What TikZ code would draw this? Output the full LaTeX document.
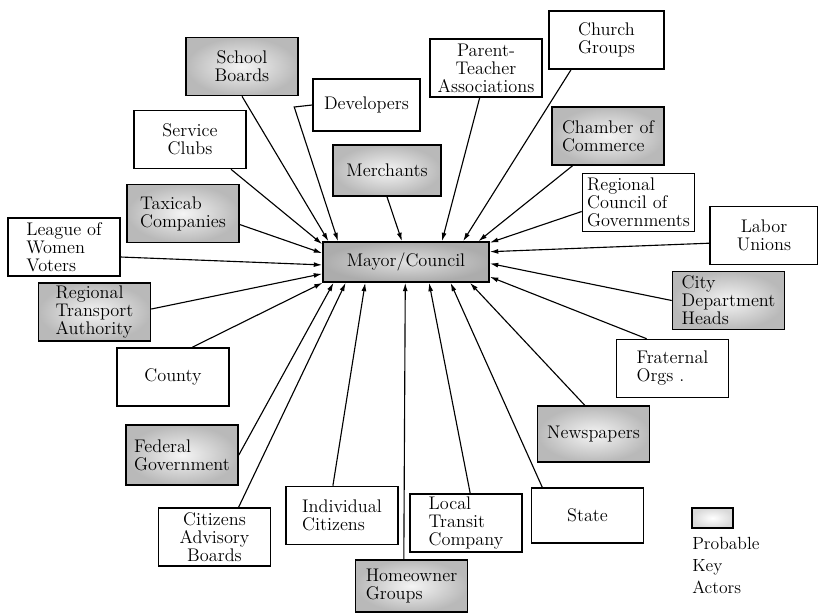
\documentclass[tikz,border=0pt]{standalone}
\usetikzlibrary{arrows.meta}

\begin{document}
\begin{tikzpicture}[
    x=0.025cm, y=-0.025cm,
    actor/.style={
        rectangle, draw, line width=1.1pt, fill=white,
        inner sep=2pt, align=center,
        minimum width=2.8cm, minimum height=1.45cm,
        font=\fontsize{13}{12.8}\selectfont
    },
    lactor/.style={actor, align=left},
    keyactor/.style={actor, inner color=gray!8, outer color=gray!55},
    lkeyactor/.style={keyactor, align=left},
    arr/.style={-{Latex[length=6pt, width=3.5pt]}, line width=0.8pt},
]
\useasboundingbox (0,0) rectangle (818,614);

% centre
\node[keyactor, inner color=gray!25, outer color=gray!65,
      minimum width=4.15cm, minimum height=1cm] (mayor) at (406,262) {Mayor/Council};

% left and top
\node[keyactor] (sb) at (242,66.5) {School\\Boards};
\node[actor, minimum width=2.675cm, minimum height=1.3cm] (dev) at (366.5,105) {Developers};
\node[actor] (sc) at (190,139.5) {Service\\Clubs};
\node[keyactor, minimum width=2.7cm, minimum height=1.275cm] (mer) at (387,170.5) {Merchants};
\node[lkeyactor] (tax) at (183,213.5) {Taxicab\\Companies};
\node[lactor] (lwv) at (64,247) {League of\\Women\\Voters};
\node[lkeyactor] (rta) at (94.5,312) {Regional\\Transport\\Authority};
\node[actor] (county) at (173,377) {County};
\node[lkeyactor, minimum height=1.5cm] (fed) at (182,455) {Federal\\Government};
\node[actor] (cab) at (214.5,537) {Citizens\\Advisory\\Boards};
\node[lactor] (ic) at (342,515.5) {Individual\\Citizens};
\node[lkeyactor, minimum height=1.3cm] (hg) at (411.5,586) {Homeowner\\Groups};

% right and bottom
\node[lactor] (ltc) at (466,523) {Local\\Transit\\Company};
\node[actor, minimum height=1.375cm] (state) at (587.5,515.5) {State};
\node[keyactor, minimum height=1.4cm] (news) at (593.5,434) {Newspapers};
\node[lactor] (frat) at (672.5,368.5) {Fraternal\\Orgs .};
\node[lkeyactor] (cdh) at (728.5,300.5) {City\\Department\\Heads};
\node[actor, minimum width=2.7cm] (lab) at (764,235.5) {Labor\\Unions};
\node[lactor] (rcog) at (638.5,202.5) {Regional\\Council of\\Governments};
\node[lkeyactor] (coc) at (608,136) {Chamber of\\Commerce};
\node[actor, minimum width=2.875cm] (church) at (606.5,40) {Church\\Groups};
\node[actor] (pta) at (486,68) {Parent-\\Teacher\\Associations};

% legend
\node[keyactor, inner color=white, outer color=gray!30,
      minimum width=1.025cm, minimum height=0.5cm, line width=0.9pt] (keybox) at (712.5,518) {};
\node[anchor=north west, align=left, inner sep=0pt,
      font=\fontsize{12.5}{15.5}\selectfont] (keytext) at (692,537) {Probable\\Key\\Actors};

% arrows into the council
\draw[arr] (sb.south) -- (mayor.165);
\draw[arr] (dev.west) -- ++(-18,2) -- (mayor.163);
\draw[arr] (sc.324) -- (mayor.168);
\draw[arr] (mer.south) -- (mayor.101);
\draw[arr] (tax.349) -- (mayor.174);
\draw[arr] (lwv.350) -- (mayor.182);
\draw[arr] (rta.3) -- (mayor.188);
\draw[arr] (county.57) -- (mayor.194);
\draw[arr] (fed.east) -- (mayor.196);
\draw[arr] (cab.51) -- (mayor.199);
\draw[arr] (ic.107) -- (mayor.207);
\draw[arr] (hg.106) -- (mayor.268);
\draw[arr] (ltc.82) -- (mayor.318);
\draw[arr] (state.148) -- (mayor.335);
\draw[arr] (news.107) -- (mayor.342);
\draw[arr] (frat.131) -- (mayor.350);
\draw[arr] (cdh.west) -- (mayor.359);
\draw[arr] (lab.188) -- (mayor.7);
\draw[arr] (rcog.189) -- (mayor.13);
\draw[arr] (coc.220) -- (mayor.16);
\draw[arr] (church.220) -- (mayor.20);
\draw[arr] (pta.258) -- (mayor.30);
\end{tikzpicture}
\end{document}
